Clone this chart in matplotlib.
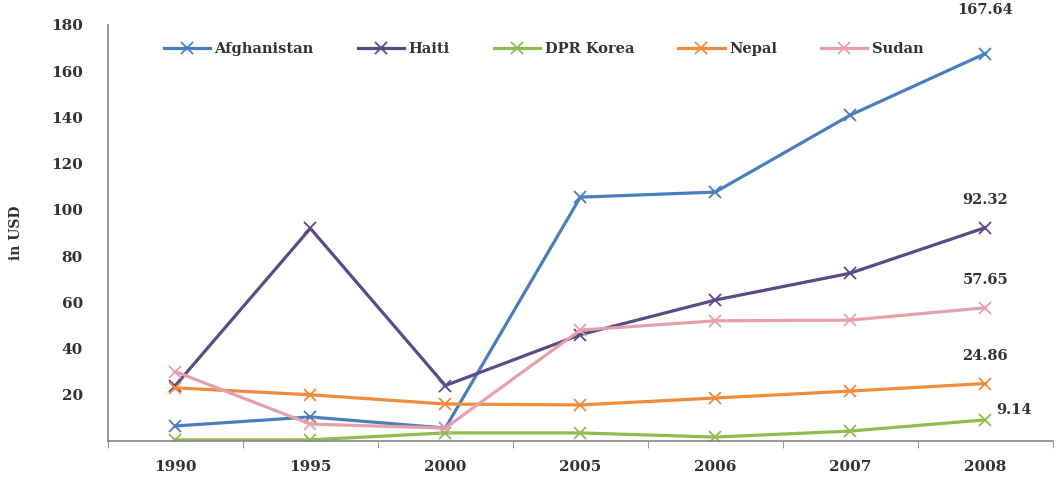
import matplotlib
matplotlib.use("Agg")
import matplotlib.pyplot as plt

years = ["1990", "1995", "2000", "2005", "2006", "2007", "2008"]
afghanistan = [6.5, 10.4, 5.6, 105.5, 107.7, 141.0, 167.64]
haiti = [24.0, 92.0, 24.0, 46.0, 61.0, 72.6, 92.32]
dpr_korea = [0.5, 0.5, 3.5, 3.5, 1.7, 4.3, 9.14]
nepal = [23.0, 20.0, 16.0, 15.6, 18.6, 21.6, 24.86]
sudan = [30.0, 7.3, 5.6, 48.0, 52.0, 52.3, 57.65]

series = [
    ("Afghanistan", afghanistan, "#4a7ebb"),
    ("Haiti", haiti, "#5b4a86"),
    ("DPR Korea", dpr_korea, "#8fbc4f"),
    ("Nepal", nepal, "#f08a3c"),
    ("Sudan", sudan, "#e6a0ab"),
]

plt.rcParams['font.family'] = ['DejaVu Serif']

fig = plt.figure(figsize=(10.58, 4.86), dpi=100)
ax = fig.add_axes([0.102, 0.0926, 0.893, 0.856])

x = list(range(len(years)))
for name, vals, col in series:
    ax.plot(x, vals, color=col, lw=2.3, marker='x', markersize=8, mew=1.3, label=name)

# data labels at last point
lbl = dict(fontsize=10.5, color='#333333', fontweight='bold')
ax.annotate(f"{afghanistan[-1]:.2f}", (6, afghanistan[-1]), xytext=(0, 26), textcoords='offset points', ha='center', va='bottom', **lbl)
ax.annotate(f"{haiti[-1]:.2f}", (6, haiti[-1]), xytext=(0, 15), textcoords='offset points', ha='center', va='bottom', **lbl)
ax.annotate(f"{sudan[-1]:.2f}", (6, sudan[-1]), xytext=(0, 15), textcoords='offset points', ha='center', va='bottom', **lbl)
ax.annotate(f"{nepal[-1]:.2f}", (6, nepal[-1]), xytext=(0, 15), textcoords='offset points', ha='center', va='bottom', **lbl)
ax.annotate(f"{dpr_korea[-1]:.2f}", (6, dpr_korea[-1]), xytext=(8, 2), textcoords='offset points', ha='left', va='bottom', **lbl)

ax.set_xlim(-0.5, 6.5)
ax.set_ylim(0, 180)
ax.set_yticks(range(20, 181, 20))
ax.set_xticks(x)
ax.set_xticklabels(years)
ax.set_xticks([i - 0.5 for i in range(len(years) + 1)], minor=True)
ax.tick_params(axis='x', which='major', length=0, pad=14, labelsize=11, labelcolor='#333333')
ax.tick_params(axis='x', which='minor', length=5, direction='out', color='#888888')
ax.tick_params(axis='y', length=0, pad=18, labelsize=11, labelcolor='#333333')
for t in ax.get_xticklabels() + ax.get_yticklabels():
    t.set_fontweight('bold')

for s in ['top', 'right']:
    ax.spines[s].set_visible(False)
ax.spines['left'].set_color('#888888')
ax.spines['bottom'].set_color('#888888')
ax.spines['left'].set_linewidth(1.2)
ax.spines['bottom'].set_linewidth(1.2)

ax.set_ylabel("in USD", fontsize=10, color='#333333', fontweight='bold', labelpad=20)

leg = ax.legend(loc='upper center', bbox_to_anchor=(0.461, 0.99), ncol=5, frameon=False,
                fontsize=10.5, handlelength=3.2, columnspacing=3.0, handletextpad=0.3)
for t in leg.get_texts():
    t.set_fontweight('bold')
    t.set_color('#333333')

fig.savefig("out.png", dpi=100)
